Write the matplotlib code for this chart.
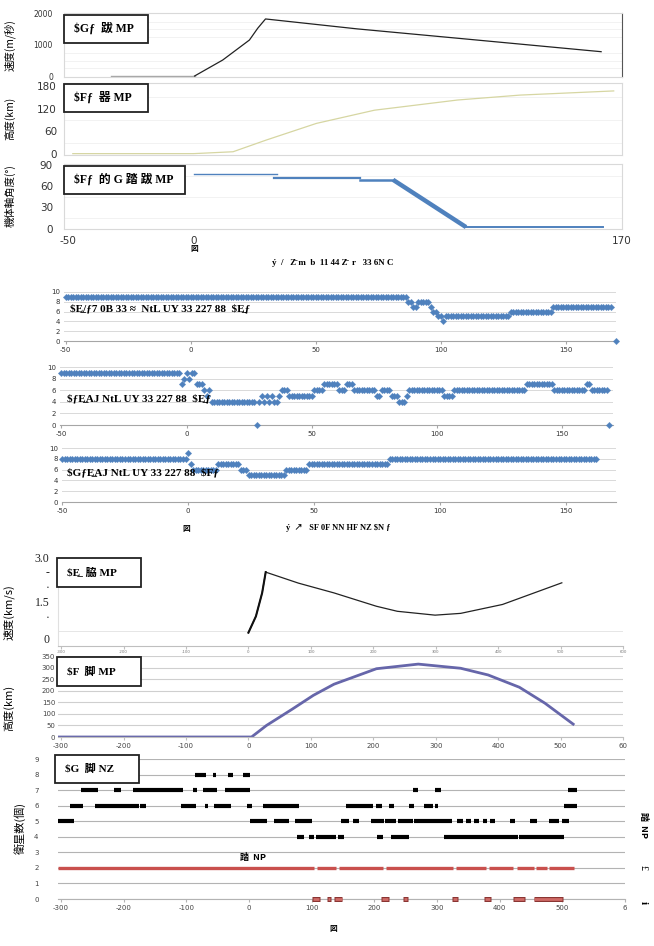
import numpy as np
import matplotlib
matplotlib.use('Agg')
import matplotlib.pyplot as plt
from matplotlib.patches import Rectangle

plt.rcParams['font.family'] = ['DejaVu Sans', 'Noto Sans CJK JP']
CJK = ['Noto Sans CJK JP', 'DejaVu Sans']
SERIF = ['Liberation Serif', 'Noto Sans CJK JP', 'DejaVu Sans']

# ---------------- data: top section ----------------
speed_pre_t = [-33, 0.4]
speed_pre_v = [0, 0]
speed_t = [0.4, 11.6, 22.2, 25.5, 28.6, 65, 110, 162]
speed_v = [0, 516, 1160, 1540, 1840, 1520, 1180, 784]

alt1_t = [-48, 0, 15.7, 28.9, 48.8, 71.9, 105, 129.8, 167]
alt1_h = [1, 1, 6, 37, 81, 116, 143, 156, 167]

ang_seg1_t, ang_seg1_a = [0, 33], [77, 77]
ang_seg2_t, ang_seg2_a = [32, 66], [72, 72]
ang_seg3_t, ang_seg3_a = [66, 79.3], [69, 69]
ang_diag_t, ang_diag_a = [79.3, 108.3], [69, 2]
ang_flat_t, ang_flat_a = [108.3, 162.8], [2, 2]

# ---------------- data: middle section (runs: start, end, value) ----------------
A_runs = [(-50, 86, 9), (87, 88, 8), (89, 90, 7), (91, 95, 8), (96, 96, 7), (97, 98, 6),
          (99, 100, 5), (101, 101, 4), (102, 127, 5), (128, 144, 6), (145, 168, 7), (170, 170, 0)]
B_runs = [(-50, -3, 9), (-2, -2, 7), (-1, -1, 8), (0, 0, 9), (1, 1, 8), (2, 3, 9), (4, 6, 7),
          (7, 7, 6), (8, 8, 5), (9, 9, 6), (10, 27, 4), (28, 28, 0), (29, 29, 4), (30, 30, 5),
          (31, 31, 4), (32, 32, 5), (33, 33, 4), (34, 34, 5), (35, 36, 4), (37, 37, 5),
          (38, 40, 6), (41, 50, 5), (51, 54, 6), (55, 60, 7), (61, 63, 6), (64, 66, 7),
          (67, 75, 6), (76, 77, 5), (78, 81, 6), (82, 84, 5), (85, 87, 4), (88, 88, 5),
          (89, 102, 6), (103, 106, 5), (107, 135, 6), (136, 146, 7), (147, 159, 6),
          (160, 161, 7), (162, 168, 6), (169, 169, 0)]
C_runs = [(-50, -1, 8), (0, 0, 9), (1, 1, 7), (2, 11, 6), (12, 20, 7), (21, 23, 6),
          (24, 38, 5), (39, 47, 6), (48, 79, 7), (80, 162, 8)]

# ---------------- data: bottom section ----------------
vel_t = [0, 12, 22, 27.7, 80, 137, 205, 238.5, 299, 340, 407, 502]
vel_v = [0.45, 1.0, 1.79, 2.49, 2.12, 1.79, 1.34, 1.17, 1.04, 1.10, 1.40, 2.13]

alt2_t = [-305, 5, 29, 70, 104, 137, 205, 272, 340, 384, 434, 475, 522]
alt2_h = [0, 0, 50, 120, 180, 228, 295, 315, 297, 268, 215, 146, 52]

row8_runs = [(-86, -69), (-57, -53), (-33, -26), (-9, 2)]
row7_runs = [(-269, -241), (-215, -205), (-186, -105), (-89, -83), (-74, -51), (-39, 2),
             (261, 269), (297, 306), (509, 523)]
row6_runs = [(-286, -265), (-246, -176), (-174, -165), (-108, -85), (-71, -66), (-56, -29),
             (-3, 5), (23, 57), (57, 79), (154, 197), (202, 212), (224, 232), (255, 264),
             (279, 293), (296, 302), (502, 523)]
row5_runs = [(-305, -279), (2, 29), (39, 64), (74, 101), (146, 159), (166, 175), (194, 215),
             (217, 234), (237, 262), (264, 301), (302, 324), (332, 341), (346, 354), (359, 367),
             (373, 379), (384, 393), (417, 424), (449, 459), (479, 495), (499, 511)]
row4_runs = [(77, 87), (95, 104), (107, 139), (142, 152), (204, 213), (227, 255), (311, 429), (431, 503)]
row2_runs = [(-305, 104), (109, 138), (143, 213), (218, 325), (330, 378), (383, 422),
             (428, 455), (458, 475), (478, 519)]
row0_runs = [(101, 113), (124, 131), (135, 149), (211, 224), (246, 253), (324, 334),
             (375, 386), (422, 441), (454, 501)]

top_xticks = [-50, 0, 170]
mid_xticks = [-50, 0, 50, 100, 150]
bot_xticks = [-300, -200, -100, 0, 100, 200, 300, 400, 500, 600]
alt2_xlabels = ['-300', '-200', '-100', '0', '100', '200', '300', '400', '500', '60']
sat_xlabels = ['-300', '-200', '-100', '0', '100', '200', '300', '400', '500', '6']

W, H = 654, 946
fig = plt.figure(figsize=(W / 100, H / 100), dpi=100)


def add_ax(l, t, r, b):
    return fig.add_axes([l / W, 1 - b / H, (r - l) / W, (b - t) / H])


def box(l, t, r, b, text, size=8.5):
    fig.patches.append(Rectangle((l / W, 1 - b / H), (r - l) / W, (b - t) / H,
                                 transform=fig.transFigure, fc='white', ec='#222222',
                                 lw=1.3, zorder=5))
    fig.text((l + 10) / W, 1 - (t + b) / 2 / H, text, ha='left', va='center',
             fontsize=size, family=SERIF, fontweight='bold', zorder=6, parse_math=False)


def ftext(x, y, s, size=7, **kw):
    fig.text(x / W, 1 - y / H, s, fontsize=size, parse_math=False, **kw)


def expand(runs):
    xs, ys = [], []
    for s, e, v in runs:
        for x in range(s, e + 1):
            xs.append(x)
            ys.append(v)
    return xs, ys


def light_axes(ax, spine_col='#d9d9d9'):
    for s in ax.spines.values():
        s.set_color(spine_col)
        s.set_linewidth(0.8)
    ax.tick_params(length=0, colors='#333333')


# ---------------- top section ----------------
TOP_XL = (-51.5, 170.3)
ax1 = add_ax(64, 13, 622, 77)
ax1.plot(speed_pre_t, speed_pre_v, color='#a6a6a6', lw=1.0)
ax1.plot(speed_t, speed_v, color='#222222', lw=0.9)
ax1.set_xlim(*TOP_XL)
ax1.set_ylim(-32, 2032)
ax1.set_yticks([0, 1000, 2000])
ax1.set_yticklabels(['0', '1000', '2000'], fontsize=5.5, color='#555555')
ax1.set_xticks([])
for y in [250, 500, 750, 1250, 1500, 1750]:
    ax1.axhline(y, color='#f0f0f0', lw=0.6, zorder=0)
light_axes(ax1)
ax1.tick_params(axis='y', pad=8)
ax1.spines['right'].set_color('#555555')

ax2 = add_ax(64, 83, 622, 155)
ax2.plot(alt1_t, alt1_h, color='#d6d6a2', lw=0.9)
ax2.set_xlim(*TOP_XL)
ax2.set_ylim(-2.6, 188)
ax2.set_yticks([0, 60, 120, 180])
ax2.set_yticklabels(['0', '60', '120', '180'], fontsize=7.5, color='#222222')
ax2.set_xticks([])
for y in [30, 90, 150]:
    ax2.axhline(y, color='#f0f0f0', lw=0.6, zorder=0)
light_axes(ax2)
ax2.tick_params(axis='y', pad=5)

ax3 = add_ax(64, 164, 622, 229)
c_blue = '#4f81bd'
ax3.plot(ang_seg1_t, ang_seg1_a, color=c_blue, lw=1.0)
ax3.plot(ang_seg2_t, ang_seg2_a, color=c_blue, lw=1.6)
ax3.plot(ang_seg3_t, ang_seg3_a, color=c_blue, lw=1.8)
ax3.plot(ang_diag_t, ang_diag_a, color=c_blue, lw=3.2, solid_capstyle='butt')
ax3.plot(ang_flat_t, ang_flat_a, color=c_blue, lw=1.4)
ax3.set_xlim(*TOP_XL)
ax3.set_ylim(-0.7, 91.4)
ax3.set_yticks([0, 30, 60, 90])
ax3.set_yticklabels(['0', '30', '60', '90'], fontsize=7.5, color='#222222')
ax3.set_xticks(top_xticks)
ax3.set_xticklabels([str(v) for v in top_xticks], fontsize=7.5, color='#222222')
for y in [15, 45, 75]:
    ax3.axhline(y, color='#f0f0f0', lw=0.6, zorder=0)
light_axes(ax3)
ax3.tick_params(axis='y', pad=8)
ax3.tick_params(axis='x', pad=5)

box(64, 15, 148, 43, '$Gƒ  跋 MP')
box(64, 84, 148, 112, '$Fƒ  器 MP')
box(64, 166, 185, 194, '$Fƒ  的 G 踏 跋 MP')

fig.text(10 / W, 1 - 45 / H, '速度(m/秒)', rotation=90, ha='center', va='center',
         fontsize=7.5, family=CJK)
fig.text(10 / W, 1 - 118 / H, '高度(km)', rotation=90, ha='center', va='center',
         fontsize=7.5, family=CJK)
fig.text(10 / W, 1 - 196 / H, '機体軸角度(°)', rotation=90, ha='center', va='center',
         fontsize=7.5, family=CJK)
ftext(194, 249, '図', size=5.5, ha='center', va='center', family=CJK, fontweight='bold')
ftext(333, 263, 'ý  /   Z̄ m  b  11 44 Z̄  r   33 6N C', size=6.5, ha='center',
      va='center', family=SERIF, fontweight='bold')

# ---------------- middle section ----------------
def dot_panel(l, t, r, b, xl, runs, label, ly, lx):
    ax = add_ax(l, t, r, b)
    xs, ys = expand(runs)
    ax.plot(xs, ys, ls='none', marker='D', ms=3.3, color=c_blue, mec=c_blue, mew=0.2,
            clip_on=False, zorder=3)
    ax.set_xlim(*xl)
    ax.set_ylim(0, 10)
    ax.set_yticks([0, 2, 4, 6, 8, 10])
    ax.set_yticklabels(['0', '2', '4', '6', '8', '10'], fontsize=5, color='#333333')
    ax.set_xticks(mid_xticks)
    ax.set_xticklabels([str(v) for v in mid_xticks], fontsize=5, color='#333333')
    ax.grid(axis='y', color='#d9d9d9', lw=0.7)
    ax.set_axisbelow(True)
    for s in ['top', 'right', 'left']:
        ax.spines[s].set_visible(False)
    ax.spines['bottom'].set_color('#a6a6a6')
    ax.tick_params(axis='y', length=0, pad=3)
    ax.tick_params(axis='x', length=2.5, color='#a6a6a6', pad=2)
    ftext(lx, ly, label, size=8, ha='left', va='center', family=SERIF, fontweight='bold')
    return ax


dot_panel(64, 292, 616, 341, (-50.6, 170.2), A_runs,
          '$E̲/ƒ7 0B 33 ≈  NtL UY 33 227 88  $E̲ƒ', 309, 70)
dot_panel(60, 367, 612.5, 425, (-50.6, 170.4), B_runs,
          '$ƒE̲AJ NtL UY 33 227 88  $E̲ƒ', 399, 67)
dot_panel(62, 448, 616, 502, (-50, 169.8), C_runs,
          '$GƒE̲AJ NtL UY 33 227 88  $Fƒ', 473, 67)

ftext(186, 528, '図', size=5.5, ha='center', va='center', family=CJK, fontweight='bold')
ftext(338, 528, 'ý  ↗   SF 0F NN HF NZ $N ƒ', size=6, ha='center', va='center',
      family=SERIF, fontweight='bold')

# ---------------- bottom section ----------------
BOT_XL = (-305, 600)

axv = add_ax(58, 557, 623, 646)
axv.plot(vel_t, vel_v, color='#222222', lw=0.9)
axv.plot(vel_t[:4], vel_v[:4], color='#111111', lw=1.5)
axv.set_xlim(*BOT_XL)
axv.set_ylim(0, 3)
axv.set_yticks([0.25, 1.0, 1.5, 2.0, 2.5, 3.0])
axv.set_yticklabels(['0', '·', '1.5', '·', '-', '3.0'], fontsize=8.5, family=SERIF,
                    color='#222222')
axv.set_yticks(np.arange(0.5, 3.01, 0.5), minor=True)
axv.grid(axis='y', which='minor', color='#e6e6e6', lw=0.7)
axv.set_xticks(bot_xticks)
axv.set_xticklabels([str(v) for v in bot_xticks], fontsize=2.8, color='#777777')
for s in ['top', 'right']:
    axv.spines[s].set_visible(False)
axv.spines['left'].set_color('#e0e0e0')
axv.spines['bottom'].set_color('#bfbfbf')
axv.tick_params(axis='y', which='both', length=0, pad=6)
axv.tick_params(axis='x', length=2, color='#bfbfbf', pad=1)

axa = add_ax(58, 656, 623, 737)
axa.plot(alt2_t, alt2_h, color='#6666aa', lw=2.0, solid_capstyle='butt')
axa.set_xlim(*BOT_XL)
axa.set_ylim(0, 350)
axa.set_yticks(np.arange(0, 351, 50))
axa.set_yticklabels([str(v) for v in range(0, 351, 50)], fontsize=5, color='#444444')
axa.set_xticks(bot_xticks)
axa.set_xticklabels(alt2_xlabels, fontsize=5, color='#444444')
axa.grid(axis='y', color='#cfcfcf', lw=0.8)
axa.set_axisbelow(True)
for s in ['top', 'right', 'left']:
    axa.spines[s].set_visible(False)
axa.spines['bottom'].set_color('#bfbfbf')
axa.tick_params(axis='y', length=0, pad=2)
axa.tick_params(axis='x', length=2.5, color='#bfbfbf', pad=2)

axs = add_ax(58, 759, 625, 899)
black_rows = [(8, row8_runs), (7, row7_runs), (6, row6_runs), (5, row5_runs), (4, row4_runs)]
for yv, runs in black_rows:
    axs.hlines([yv] * len(runs), [r[0] for r in runs], [r[1] for r in runs],
               color='black', lw=3.0, zorder=3)
axs.hlines([2] * len(row2_runs), [r[0] for r in row2_runs], [r[1] for r in row2_runs],
           color='#c9504d', lw=2.4, zorder=3)
axs.hlines([0] * len(row0_runs), [r[0] for r in row0_runs], [r[1] for r in row0_runs],
           color='#8a3533', lw=3.6, zorder=3, clip_on=False)
axs.hlines([0] * len(row0_runs), [r[0] + 1.5 for r in row0_runs], [r[1] - 1.5 for r in row0_runs],
           color='#cf6a66', lw=2.0, zorder=4, clip_on=False)
axs.set_xlim(*BOT_XL)
axs.set_ylim(0, 9)
axs.set_yticks(range(10))
axs.set_yticklabels([str(v) for v in range(10)], fontsize=5, color='#444444')
axs.set_xticks(bot_xticks)
axs.set_xticklabels(sat_xlabels, fontsize=5, color='#444444')
axs.grid(axis='y', color='#b3b3b3', lw=0.8)
axs.set_axisbelow(True)
for s in ['top', 'right', 'left']:
    axs.spines[s].set_visible(False)
axs.spines['bottom'].set_color('#b3b3b3')
axs.tick_params(axis='y', length=0, pad=14)
axs.tick_params(axis='x', length=2.5, color='#b3b3b3', pad=2)

box(57, 558, 141, 587, '$E̲  脇 MP', size=8)
box(57, 657, 141, 686, '$F  脚 MP', size=8)
box(55, 755, 139, 783, '$G  脚 NZ', size=8)

fig.text(9 / W, 1 - 612 / H, '速度(km/s)', rotation=90, ha='center', va='center',
         fontsize=8, family=CJK)
fig.text(9 / W, 1 - 708 / H, '高度(km)', rotation=90, ha='center', va='center',
         fontsize=8, family=CJK)
fig.text(20 / W, 1 - 828 / H, '衛星数(個)', rotation=90, ha='center', va='center',
         fontsize=8, family=CJK)
ftext(253, 857, '踏  NP', size=6.5, ha='center', va='center', family=CJK, fontweight='bold')
fig.text(644 / W, 1 - 825 / H, '踏  NP', rotation=-90, ha='center', va='center',
         fontsize=6.5, family=CJK, fontweight='bold')
fig.text(643 / W, 1 - 867 / H, '£', rotation=-90, ha='center', va='center',
         fontsize=7, family=SERIF)
fig.text(643 / W, 1 - 902 / H, 'i', rotation=-90, ha='center', va='center',
         fontsize=8, family=SERIF, fontweight='bold')
ftext(333, 928, '図', size=5.5, ha='center', va='center', family=CJK, fontweight='bold')

fig.savefig('out.png', dpi=100, facecolor='white')
